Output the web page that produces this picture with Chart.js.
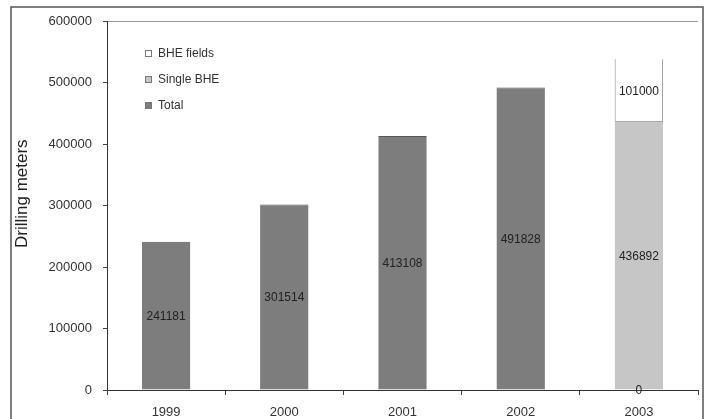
<!DOCTYPE html>
<html>
<head>
<meta charset="utf-8">
<script src="https://cdn.jsdelivr.net/npm/chart.js@4"></script>
<style>
  html, body { margin: 0; padding: 0; background: #fff; }
  #wrap { width: 712px; height: 419px; }
</style>
</head>
<body>
<div id="wrap"><canvas id="myCanvas"></canvas></div>
<script>
// data
const years = ["1999", "2000", "2001", "2002", "2003"];
const totalMeters = [241181, 301514, 413108, 491828, 0];
const singleBhe = [null, null, null, null, 436892];
const bheFields = [null, null, null, null, 101000];
const yTicks = [0, 100000, 200000, 300000, 400000, 500000, 600000];

const FONT = "'Liberation Sans', Arial, sans-serif";

// value written in the middle of each bar
const barLabels = {
  id: "barLabels",
  afterDatasetsDraw(chart) {
    const ctx = chart.ctx;
    ctx.save();
    ctx.font = "12px " + FONT;
    ctx.fillStyle = "#222";
    ctx.textAlign = "center";
    ctx.textBaseline = "middle";
    chart.data.datasets.forEach((ds, i) => {
      chart.getDatasetMeta(i).data.forEach((bar, j) => {
        const v = ds.data[j];
        if (v === null) return;
        ctx.fillText(String(v), bar.x, (bar.y + bar.base) / 2 + 1);
      });
    });
    ctx.restore();
  },
};

// legend sits inside the plot, top left
const innerLegend = {
  id: "innerLegend",
  afterDraw(chart) {
    const ctx = chart.ctx;
    ctx.save();
    ctx.font = "12px " + FONT;
    ctx.textBaseline = "middle";
    const list = chart.data.datasets.slice().reverse();
    list.forEach((ds, k) => {
      const y = 54 + k * 26;
      ctx.fillStyle = ds.backgroundColor;
      ctx.strokeStyle = "#777";
      ctx.lineWidth = 1;
      ctx.fillRect(145.5, y - 3.5, 6, 6);
      ctx.strokeRect(145.5, y - 3.5, 6, 6);
      ctx.fillStyle = "#333";
      ctx.fillText(ds.label, 158, y);
    });
    ctx.restore();
  },
};

// outer frame of the figure
const frame = {
  id: "frame",
  beforeDraw(chart) {
    const ctx = chart.ctx;
    ctx.save();
    ctx.fillStyle = "#fff";
    ctx.fillRect(0, 0, chart.width, chart.height);
    ctx.strokeStyle = "#555";
    ctx.lineWidth = 1.5;
    ctx.strokeRect(11, 7, 692, 440);
    ctx.restore();
  },
};

new Chart(document.getElementById("myCanvas"), {
  type: "bar",
  data: {
    labels: years,
    datasets: [
      {
        label: "Total",
        data: totalMeters,
        backgroundColor: "#7d7d7d",
        borderColor: "#555",
        borderWidth: { top: 1, left: 0, right: 0, bottom: 0 },
        borderSkipped: false,
      },
      {
        label: "Single BHE",
        data: singleBhe,
        backgroundColor: "#c6c6c6",
        borderColor: "#666",
        borderWidth: { top: 1, left: 0, right: 0, bottom: 0 },
        borderSkipped: false,
      },
      {
        label: "BHE fields",
        data: bheFields,
        backgroundColor: "#ffffff",
        borderColor: "#888",
        borderWidth: { top: 0, left: 1, right: 1, bottom: 0 },
        borderSkipped: false,
      },
    ],
  },
  options: {
    responsive: true,
    maintainAspectRatio: false,
    animation: false,
    layout: { padding: { top: 21, left: 0, right: 14, bottom: 0 } },
    datasets: {
      bar: { barPercentage: 0.41, categoryPercentage: 1 },
    },
    plugins: {
      legend: { display: false },
      tooltip: { enabled: false },
    },
    scales: {
      x: {
        stacked: true,
        offset: true,
        grid: {
          offset: true,
          color: (c) => (c.index === years.length ? "#cfcfcf" : "transparent"),
          tickColor: "#444",
          tickLength: 5,
        },
        border: { display: true, color: "#333", width: 1 },
        ticks: {
          font: { family: FONT, size: 13 },
          color: "#333",
          padding: 10,
        },
        afterFit(scale) { scale.height = 29; },
      },
      y: {
        stacked: true,
        min: 0,
        max: 600000,
        afterBuildTicks(scale) {
          scale.ticks = yTicks.map((v) => ({ value: v }));
        },
        grid: {
          color: (c) => (c.tick && c.tick.value === 600000 ? "#999" : "transparent"),
          tickColor: "#444",
          tickLength: 4,
        },
        border: { display: true, color: "#333", width: 1 },
        ticks: {
          font: { family: FONT, size: 13 },
          color: "#333",
          padding: 11,
          callback: (v) => String(v),
        },
        title: {
          display: true,
          text: "     Drilling meters",
          font: { family: FONT, size: 17 },
          color: "#222",
          padding: { top: 12, bottom: 0 },
        },
        afterFit(scale) { scale.width = 107; },
      },
    },
  },
  plugins: [frame, barLabels, innerLegend],
});
</script>
</body>
</html>
